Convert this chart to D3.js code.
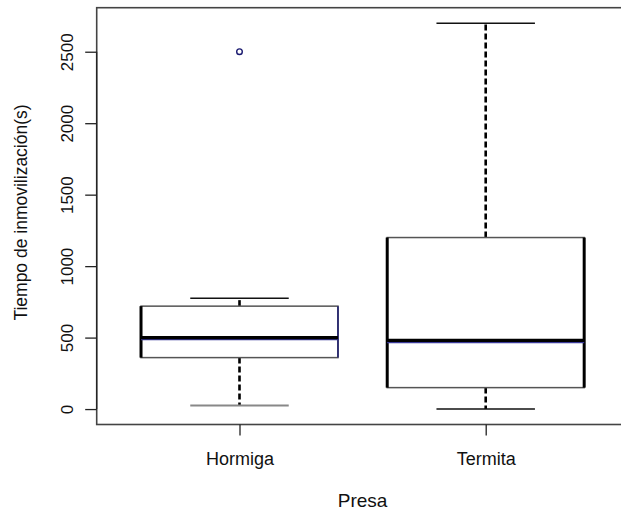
<!DOCTYPE html>
<html>
<head>
<meta charset="utf-8">
<script src="https://cdn.jsdelivr.net/npm/d3@7"></script>
<style>
  html, body { margin: 0; padding: 0; background: #fff; }
  svg { display: block; }
  text { font-family: "Liberation Sans", Arial, sans-serif; fill: #111; }
</style>
</head>
<body>
<svg id="chart" width="621" height="513"></svg>
<script>
// ---- data ----
const categories = ["Hormiga", "Termita"];
const whiskerLow  = [25, 0];
const q1          = [360, 150];
const median      = [500, 480];
const q3          = [720, 1200];
const whiskerHigh = [775, 2700];
const outliers    = [[2500], []];
const yTicks      = [0, 500, 1000, 1500, 2000, 2500];
const xLabel = "Presa";
const yLabel = "Tiempo de inmovilización(s)";

// ---- layout ----
const W = 621, H = 513;
const plot = { left: 96.7, right: 628.5, top: 7.7, bottom: 424.5 };

const svg = d3.select("#chart");

const dataMin = 0, dataMax = 2700;
const pad = (dataMax - dataMin) * 0.04;
const y = d3.scaleLinear().domain([dataMin - pad, dataMax + pad]).range([plot.bottom, plot.top]);
const x = d3.scaleLinear().domain([0.42, categories.length + 0.58]).range([plot.left, plot.right]);

const boxHalf = 0.4, capHalf = 0.2;

// boxes
categories.forEach((c, i) => {
  const cx = i + 1;
  const g = svg.append("g");
  // whiskers (dashed)
  g.append("line")
    .attr("x1", x(cx)).attr("x2", x(cx))
    .attr("y1", y(q3[i])).attr("y2", y(whiskerHigh[i]))
    .attr("stroke", "#000").attr("stroke-width", 2.6).attr("stroke-dasharray", "6,3");
  g.append("line")
    .attr("x1", x(cx)).attr("x2", x(cx))
    .attr("y1", y(q1[i])).attr("y2", y(whiskerLow[i]))
    .attr("stroke", "#000").attr("stroke-width", 2.6).attr("stroke-dasharray", "6,3");
  // caps
  g.append("line")
    .attr("x1", x(cx - capHalf)).attr("x2", x(cx + capHalf))
    .attr("y1", y(whiskerHigh[i])).attr("y2", y(whiskerHigh[i]))
    .attr("stroke", "#111").attr("stroke-width", 1.5);
  g.append("line")
    .attr("x1", x(cx - capHalf)).attr("x2", x(cx + capHalf))
    .attr("y1", y(whiskerLow[i])).attr("y2", y(whiskerLow[i]))
    .attr("stroke", i === 0 ? "#888" : "#111").attr("stroke-width", i === 0 ? 2 : 1.5);
  // box top/bottom
  g.append("rect")
    .attr("x", x(cx - boxHalf)).attr("width", x(cx + boxHalf) - x(cx - boxHalf))
    .attr("y", y(q3[i])).attr("height", y(q1[i]) - y(q3[i]))
    .attr("fill", "#fff").attr("stroke", "#555").attr("stroke-width", 1.5);
  // box sides
  g.append("line")
    .attr("x1", x(cx - boxHalf)).attr("x2", x(cx - boxHalf))
    .attr("y1", y(q3[i])).attr("y2", y(q1[i]))
    .attr("stroke", "#000").attr("stroke-width", 3);
  g.append("line")
    .attr("x1", x(cx + boxHalf)).attr("x2", x(cx + boxHalf))
    .attr("y1", y(q3[i])).attr("y2", y(q1[i]))
    .attr("stroke", i === 0 ? "#1a1a70" : "#000").attr("stroke-width", i === 0 ? 1.5 : 3);
  // median (with slight navy edge)
  g.append("line")
    .attr("x1", x(cx - boxHalf)).attr("x2", x(cx + boxHalf))
    .attr("y1", y(median[i]) + 2).attr("y2", y(median[i]) + 2)
    .attr("stroke", "#3a3a9a").attr("stroke-width", 1.5);
  g.append("line")
    .attr("x1", x(cx - boxHalf)).attr("x2", x(cx + boxHalf))
    .attr("y1", y(median[i])).attr("y2", y(median[i]))
    .attr("stroke", "#000").attr("stroke-width", 3.2);
  // outliers
  g.selectAll("circle").data(outliers[i]).enter().append("circle")
    .attr("cx", x(cx)).attr("cy", d => y(d)).attr("r", 2.8)
    .attr("fill", "none").attr("stroke", "#1a1a70").attr("stroke-width", 1.4);
});

// frame
svg.append("rect")
  .attr("x", plot.left).attr("y", plot.top)
  .attr("width", plot.right - plot.left).attr("height", plot.bottom - plot.top)
  .attr("fill", "none").attr("stroke", "#444").attr("stroke-width", 1.6);

// y axis
const yAxis = svg.append("g")
  .attr("transform", `translate(${plot.left},0)`)
  .call(d3.axisLeft(y).tickValues(yTicks).tickSize(11.5).tickPadding(0).tickFormat(d3.format("d")));
yAxis.select(".domain").attr("stroke", "#222").attr("stroke-width", 1.2)
  .attr("d", `M0,${y(yTicks[0])}V${y(yTicks[yTicks.length - 1])}`);
yAxis.selectAll(".tick line").attr("stroke", "#222").attr("stroke-width", 1.3);
yAxis.selectAll(".tick text")
  .attr("x", null).attr("dy", null)
  .attr("transform", "translate(-24,0) rotate(-90)")
  .attr("text-anchor", "middle")
  .style("font-size", "17px").style("font-family", "Liberation Sans, Arial, sans-serif").attr("fill", "#111");

// x axis
const xAxis = svg.append("g")
  .attr("transform", `translate(0,${plot.bottom})`)
  .call(d3.axisBottom(x).tickValues(categories.map((c, i) => i + 1)).tickSize(11).tickPadding(0)
    .tickFormat((d) => categories[d - 1]));
xAxis.select(".domain").remove();
xAxis.selectAll(".tick line").attr("stroke", "#222").attr("stroke-width", 1.3);
xAxis.selectAll(".tick text")
  .attr("y", 40.5).attr("dy", null)
  .style("font-size", "18px").style("font-family", "Liberation Sans, Arial, sans-serif").attr("fill", "#111");

// axis titles
svg.append("text")
  .attr("x", x((categories.length + 1) / 2)).attr("y", 507)
  .attr("text-anchor", "middle").style("font-size", "19px")
  .text(xLabel);
svg.append("text")
  .attr("transform", `translate(27,${212.5}) rotate(-90)`)
  .attr("text-anchor", "middle").style("font-size", "17.5px")
  .text(yLabel);
</script>
</body>
</html>
